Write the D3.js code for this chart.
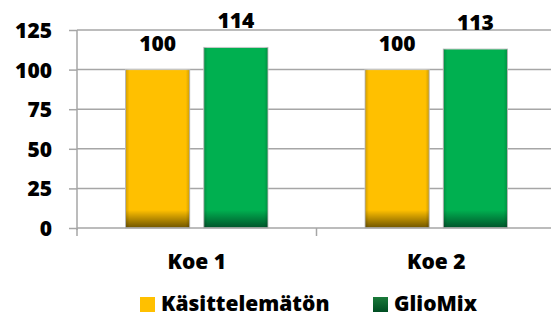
<!DOCTYPE html>
<html><head><meta charset="utf-8">
<script src="https://cdn.jsdelivr.net/npm/d3@7"></script>
<style>html,body{margin:0;padding:0;background:#fff;overflow:hidden}</style>
</head><body>
<svg id="chart" width="551" height="316"></svg>
<script>
const categories = ["Koe 1", "Koe 2"];
const seriesNames = ["Käsittelemätön", "GlioMix"];
const kasittelematon = [100, 100];
const gliomix = [114, 113];
const yTicks = [0, 25, 50, 75, 100, 125];
const colors = ["#FFC000", "#00B050"];
const darkColors = ["#6e5400", "#00532a"];

const font = "'Open Sans', 'Liberation Sans', sans-serif";
const fs = 21;
const fw = 800;
const svg = d3.select("#chart");
const m = {left: 77, right: 556, top: 30, bottom: 228};

const x = d3.scaleBand().domain(categories).range([m.left, m.right]).paddingInner(0).paddingOuter(0);
const xs = d3.scaleBand().domain(seriesNames).range([0, x.bandwidth()]).paddingInner(0.18).paddingOuter(0.62);
const y = d3.scaleLinear().domain([0, 125]).range([m.bottom, m.top]);

const data = [];
categories.forEach((c, i) => {
  data.push({cat: c, s: 0, v: kasittelematon[i]});
  data.push({cat: c, s: 1, v: gliomix[i]});
});

const defs = svg.append("defs");
const edge = defs.append("linearGradient").attr("id", "edge").attr("x1", 0).attr("x2", 1).attr("y1", 0).attr("y2", 0);
edge.append("stop").attr("offset", 0).attr("stop-color", "#000").attr("stop-opacity", 0.18);
edge.append("stop").attr("offset", 0.06).attr("stop-color", "#000").attr("stop-opacity", 0);
edge.append("stop").attr("offset", 0.94).attr("stop-color", "#000").attr("stop-opacity", 0);
edge.append("stop").attr("offset", 1).attr("stop-color", "#000").attr("stop-opacity", 0.18);

data.forEach((d, i) => {
  const h = y(0) - y(d.v);
  const g = defs.append("linearGradient").attr("id", "bg" + i).attr("x1", 0).attr("x2", 0).attr("y1", 0).attr("y2", 1);
  g.append("stop").attr("offset", 0).attr("stop-color", colors[d.s]);
  g.append("stop").attr("offset", 1 - 18 / h).attr("stop-color", colors[d.s]);
  g.append("stop").attr("offset", 1).attr("stop-color", darkColors[d.s]);
});
const lg = defs.append("linearGradient").attr("id", "lg1").attr("x1", 0).attr("x2", 0).attr("y1", 0).attr("y2", 1);
lg.append("stop").attr("offset", 0).attr("stop-color", "#1a7a3a");
lg.append("stop").attr("offset", 1).attr("stop-color", "#004d22");

// gridlines
svg.append("g").selectAll("line").data(yTicks.filter(t => t > 0)).join("line")
  .attr("x1", m.left).attr("x2", 551).attr("y1", d => y(d)).attr("y2", d => y(d))
  .attr("stroke", "#a6a6a6").attr("stroke-width", 1.5);

// y axis
const yAxis = svg.append("g").attr("transform", `translate(${m.left},0)`)
  .call(d3.axisLeft(y).tickValues(yTicks).tickSize(8).tickPadding(17));
yAxis.select(".domain").attr("stroke", "#a6a6a6").attr("stroke-width", 1.5).attr("d", `M-0,${m.top}V${m.bottom + 2}`);
yAxis.selectAll(".tick line").attr("stroke", "#a6a6a6").attr("stroke-width", 1.5);
yAxis.selectAll(".tick text").attr("font-family", font).attr("font-weight", fw).attr("font-size", fs).attr("fill", "#000").attr("dy", "0.36em");

// bars
const bars = svg.append("g");
bars.selectAll("rect.bar").data(data).join("rect").attr("class", "bar")
  .attr("x", d => x(d.cat) + xs(seriesNames[d.s])).attr("y", d => y(d.v))
  .attr("width", xs.bandwidth()).attr("height", d => y(0) - y(d.v))
  .attr("fill", (d, i) => `url(#bg${i})`).attr("stroke", "#c8c8c8").attr("stroke-width", 1);
bars.selectAll("rect.edge").data(data).join("rect").attr("class", "edge")
  .attr("x", d => x(d.cat) + xs(seriesNames[d.s])).attr("y", d => y(d.v))
  .attr("width", xs.bandwidth()).attr("height", d => y(0) - y(d.v))
  .attr("fill", "url(#edge)");

// value labels
svg.append("g").selectAll("text").data(data).join("text")
  .attr("x", d => x(d.cat) + xs(seriesNames[d.s]) + xs.bandwidth() / 2)
  .attr("y", d => y(d.v) - 19)
  .attr("text-anchor", "middle").attr("font-family", font).attr("font-weight", fw)
  .attr("font-size", fs).attr("fill", "#000").text(d => d.v);

// x axis
const xAxis = svg.append("g").attr("transform", `translate(0,${m.bottom})`)
  .call(d3.axisBottom(x).tickSize(0).tickPadding(26));
xAxis.select(".domain").remove();
xAxis.append("line").attr("x1", m.left).attr("x2", 551).attr("y1", 0).attr("y2", 0).attr("stroke", "#a6a6a6").attr("stroke-width", 1.5);
const bounds = [m.left, x(categories[1]), m.right];
xAxis.selectAll("line.tk").data(bounds).join("line").attr("class", "tk")
  .attr("x1", d => d).attr("x2", d => d).attr("y1", 0).attr("y2", 8)
  .attr("stroke", "#a6a6a6").attr("stroke-width", 1.5);
xAxis.selectAll(".tick text").attr("font-family", font).attr("font-weight", fw).attr("font-size", fs).attr("fill", "#000");

// legend
const legend = svg.append("g");
const legX = [140, 373];
seriesNames.forEach((n, i) => {
  legend.append("rect").attr("x", legX[i]).attr("y", 297).attr("width", 15).attr("height", 15)
    .attr("fill", i === 0 ? colors[0] : "url(#lg1)");
  legend.append("text").attr("x", legX[i] + 21).attr("y", 311)
    .attr("font-family", font).attr("font-weight", fw).attr("font-size", fs).attr("fill", "#000").text(n);
});
</script>
</body></html>
